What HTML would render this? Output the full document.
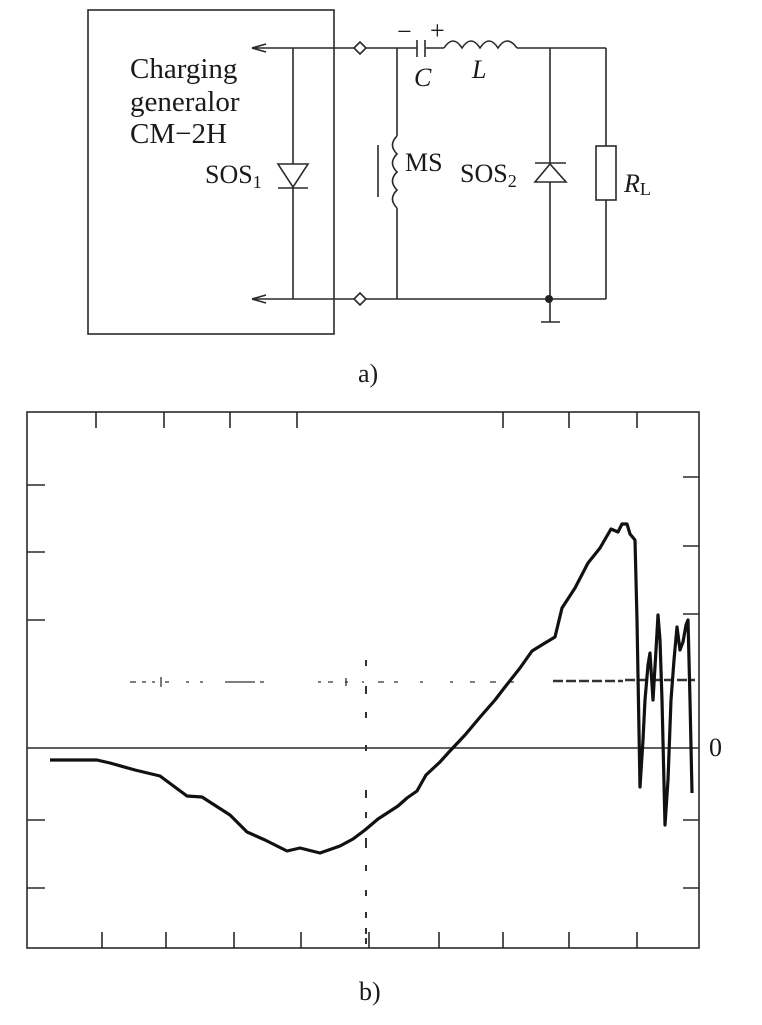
<!DOCTYPE html>
<html><head><meta charset="utf-8"><style>
html,body{margin:0;padding:0;background:#fff;}
svg{display:block;}
text{font-family:"Liberation Serif",serif;fill:#1a1a1a;}
</style></head><body>
<svg width="762" height="1025" viewBox="0 0 762 1025" xmlns="http://www.w3.org/2000/svg">
<g stroke="#2a2a2a" stroke-width="1.6" fill="none">
<rect x="88" y="10" width="246" height="324"/>
<line x1="252" y1="48" x2="417" y2="48"/>
<line x1="426" y1="48" x2="444" y2="48"/>
<path d="M444 48 q9 -14 18 0 q9 -14 18 0 q9 -14 18 0 q9 -14 19 0"/>
<line x1="517" y1="48" x2="606" y2="48"/>
<line x1="252" y1="299" x2="606" y2="299"/>
<path d="M252 48 l14 -4 M252 48 l14 4"/>
<path d="M252 299 l14 -4 M252 299 l14 4"/>
<line x1="417" y1="40" x2="417" y2="57"/>
<line x1="425" y1="40" x2="425" y2="57"/>
<line x1="293" y1="48" x2="293" y2="299"/>
<path d="M278 164 L308 164 L293 187 Z" fill="#fff"/>
<line x1="278" y1="188" x2="308" y2="188"/>
<line x1="397" y1="48" x2="397" y2="136"/>
<path d="M397 136 q-9 9 0 18 q-9 9 0 18 q-9 9 0 18 q-9 9 0 18"/>
<line x1="397" y1="208" x2="397" y2="299"/>
<line x1="378" y1="145" x2="378" y2="197"/>
<line x1="550" y1="48" x2="550" y2="322"/>
<line x1="535" y1="163" x2="566" y2="163"/>
<path d="M535 182 L566 182 L550 164 Z" fill="#fff"/>
<line x1="541" y1="322" x2="560" y2="322"/>
<line x1="606" y1="48" x2="606" y2="146"/>
<rect x="596" y="146" width="20" height="54" fill="#fff"/>
<line x1="606" y1="200" x2="606" y2="299"/>
<path d="M354 48 l6 -6 l6 6 l-6 6 Z" fill="#fff"/>
<path d="M354 299 l6 -6 l6 6 l-6 6 Z" fill="#fff"/>
</g>
<circle cx="549" cy="299" r="4" fill="#222"/>
<g font-size="26">
<text x="130" y="78" font-size="29">Charging</text>
<text x="130" y="111" font-size="29">generalor</text>
<text x="130" y="143" font-size="29">CM−2H</text>
<text x="205" y="183">SOS<tspan font-size="18" dy="5">1</tspan></text>
<text x="405" y="171">MS</text>
<text x="460" y="182">SOS<tspan font-size="18" dy="5">2</tspan></text>
<text x="624" y="192" font-style="italic">R<tspan font-style="normal" font-size="18" dy="3">L</tspan></text>
<text x="414" y="86" font-style="italic">C</text>
<text x="472" y="78" font-style="italic">L</text>
<text x="397" y="40">−</text>
<text x="430" y="39">+</text>
<text x="358" y="382">a)</text>
<text x="359" y="1000">b)</text>
<text x="709" y="756">0</text>
</g>
<g stroke="#2a2a2a" stroke-width="1.6" fill="none">
<rect x="27" y="412" width="672" height="536"/>
<line x1="27" y1="748" x2="699" y2="748"/>
<path d="M96 412v16M164 412v16M230 412v16M297 412v16M503 412v16M569 412v16M637 412v16"/>
<path d="M102 948v-16M166 948v-16M234 948v-16M301 948v-16M369 948v-16M439 948v-16M503 948v-16M569 948v-16M637 948v-16"/>
<path d="M27 485h18M27 552h18M27 620h18M27 820h18M27 888h18"/>
<path d="M699 477h-16M699 546h-16M699 614h-16M699 820h-16M699 888h-16"/>
</g>
<g stroke="#333" stroke-width="1.3" fill="none">
<path d="M130 682h6M142 682h4M152 682h3M165 682h4M186 682h3M200 682h3M225 682h30M260 682h4M318 682h3M328 682h5M345 682h3M362 682h2M378 682h6M394 682h4M420 682h3M450 682h3M470 682h5M490 682h6M510 682h4" />
<path d="M553 681h70M625 680h70" stroke-width="2.5" stroke-dasharray="10 3"/>
<path d="M366 660v6M366 686v8M366 712v6M366 745v6M366 790v8M366 812v6M366 838v10M366 865v6M366 890v6M366 912v6M366 928v6M366 938v6" stroke-width="2"/>
<path d="M161 677v10M346 678v8"/>
</g>
<path d="M50 760 L97 760 L110 763 L135 770 L160 776 L187 796 L202 797 L230 815 L247 832 L265 840 L287 851 L300 848 L320 853 L340 846 L353 839 L365 830 L378 819 L398 806 L407 798 L417 791 L426 775 L440 762 L449 752 L465 735 L481 716 L495 700 L505 687 L520 668 L532 651 L545 643 L555 637 L562 608 L575 588 L588 563 L600 548 L611 529 L618 532 L622 524 L627 524 L630 534 L635 540 L637 620 L640 787 L643 740 L645 700 L648 665 L650 653 L653 700 L656 650 L658 615 L660 640 L662 700 L665 825 L668 780 L671 700 L674 660 L677 627 L680 650 L683 642 L686 625 L688 620 L690 700 L692 793" fill="none" stroke="#111" stroke-width="3.2" stroke-linejoin="round"/>
</svg>
</body></html>
